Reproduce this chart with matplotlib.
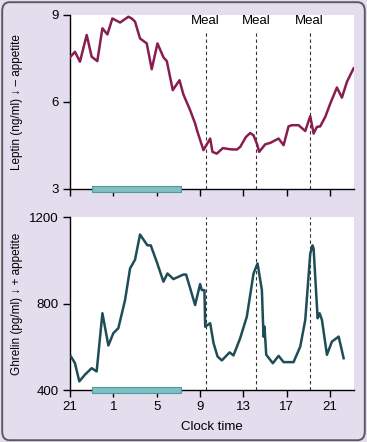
import matplotlib.pyplot as plt
from matplotlib.patches import FancyBboxPatch, Rectangle

# hours after 21:00 (clock 21 -> 0, 1 -> 4, ...)
leptin_hours = [0.0, 0.46, 0.92, 1.54, 2.0, 2.52, 2.99, 3.45, 3.91, 4.62, 5.39, 5.69, 6.0,
                6.46, 7.08, 7.54, 8.07, 8.62, 8.93, 9.48, 10.10, 10.46, 11.08, 11.54, 11.76,
                12.31, 12.93, 13.14, 13.54, 14.10, 14.77, 15.39, 15.70, 16.22, 16.62, 16.93,
                17.24, 17.45, 18.01, 18.47, 19.24, 19.70, 20.16, 20.47, 21.08, 21.70, 22.16,
                22.47, 22.77, 23.08, 23.55, 24.01, 24.62, 25.08, 25.55, 25.85, 26.16]
leptin_vals = [7.54, 7.73, 7.39, 8.31, 7.56, 7.41, 8.54, 8.33, 8.88, 8.74, 8.94, 8.88, 8.77,
               8.19, 8.02, 7.13, 8.02, 7.54, 7.41, 6.41, 6.75, 6.26, 5.72, 5.26, 4.97,
               4.34, 4.74, 4.28, 4.22, 4.41, 4.37, 4.36, 4.45, 4.79, 4.93, 4.85,
               4.56, 4.28, 4.54, 4.59, 4.74, 4.51, 5.16, 5.20, 5.20, 5.00, 5.51,
               4.91, 5.14, 5.16, 5.49, 5.95, 6.50, 6.15, 6.70, 6.93, 7.16]

ghrelin_hours = [0.09, 0.46, 0.86, 1.38, 2.0, 2.46, 2.99, 3.54, 4.0, 4.46, 5.08, 5.54, 6.0,
                 6.46, 7.14, 7.45, 8.0, 8.62, 8.99, 9.54, 10.46, 10.71, 11.54, 12.0, 12.16,
                 12.40, 12.47, 12.93, 13.24, 13.61, 14.01, 14.72, 15.08, 15.70, 16.31, 16.93,
                 17.30, 17.70, 17.85, 17.94, 18.10, 18.71, 19.24, 19.70, 20.62, 21.24, 21.70,
                 22.16, 22.37, 22.47, 22.62, 22.84, 23.02, 23.24, 23.70, 24.16, 24.78, 25.24]
ghrelin_vals = [555, 524, 440, 471, 501, 486, 755, 606, 663, 686, 816, 962, 1003,
                1119, 1069, 1069, 993, 901, 939, 913, 934, 934, 793, 890, 862,
                862, 693, 709, 617, 555, 537, 574, 560, 640, 739, 939,
                985, 862, 647, 693, 563, 524, 558, 529, 529, 601, 724,
                1031, 1069, 1054, 924, 732, 755, 724, 563, 624, 647, 547]

meal_hours = [12.5, 17.2, 22.1]
sleep_start, sleep_end = 2.0, 10.25
tick_hours = [0, 4, 8, 12, 16, 20, 24]
tick_labels = ['21', '1', '5', '9', '13', '17', '21']

plt.rcParams['font.family'] = ['Liberation Sans', 'DejaVu Sans']
plt.rcParams['font.size'] = 9.5

bg = '#e4ddee'
fig = plt.figure(figsize=(3.67, 4.42), dpi=100, facecolor=bg)
border = FancyBboxPatch((0.006, 0.004), 0.988, 0.991, boxstyle='round,pad=0,rounding_size=0.02',
                        transform=fig.transFigure, facecolor='none', edgecolor='#5a5a60', lw=1.4)
fig.patches.append(border)

ax1 = fig.add_axes([0.1907, 0.5724, 0.774, 0.3937])
ax2 = fig.add_axes([0.1907, 0.1176, 0.774, 0.3914])

for ax in (ax1, ax2):
    ax.set_facecolor('white')
    for s in ('top', 'right'):
        ax.spines[s].set_visible(False)
    ax.spines['left'].set_linewidth(1.0)
    ax.spines['bottom'].set_linewidth(1.0)
    ax.set_xlim(0, 26.2)
    ax.set_xticks(tick_hours)
    ax.tick_params(direction='out', length=5, width=1.0, pad=3, labelsize=9.5)
    trans = ax.get_xaxis_transform()
    ax.add_patch(Rectangle((sleep_start, -0.018), sleep_end - sleep_start, 0.036,
                           transform=trans, facecolor='#80c0c2', edgecolor='#4f9a9c',
                           lw=0.8, clip_on=False, zorder=5))

ax1.plot(leptin_hours, leptin_vals, color='#8a1d50', lw=1.8, zorder=3)
ax1.set_ylim(3, 9)
ax1.set_yticks([3, 6, 9])
ax1.set_xticklabels([])
ax1.set_ylabel('Leptin (ng/ml) \u2193 \u2013 appetite', fontsize=8.5)
for m in meal_hours:
    ax1.plot([m, m], [0, 0.915], transform=ax1.get_xaxis_transform(),
             color='#333333', lw=0.8, ls=(0, (3, 2.5)), zorder=2)
    ax1.text(m, 0.965, 'Meal', transform=ax1.get_xaxis_transform(),
             ha='center', va='center', fontsize=9.5)

ax2.plot(ghrelin_hours, ghrelin_vals, color='#1f4d57', lw=1.8, zorder=3)
ax2.set_ylim(400, 1200)
ax2.set_yticks([400, 800, 1200])
ax2.set_xticklabels(tick_labels)
ax2.set_ylabel('Ghrelin (pg/ml) \u2193 + appetite', fontsize=8.5)
ax2.set_xlabel('Clock time', labelpad=6)
for m in meal_hours:
    ax2.axvline(m, color='#333333', lw=0.8, ls=(0, (3, 2.5)), zorder=2)

for ax in (ax1, ax2):
    ax.yaxis.set_label_coords(-0.165, 0.5)

fig.savefig('out.png', dpi=100, facecolor=bg)
